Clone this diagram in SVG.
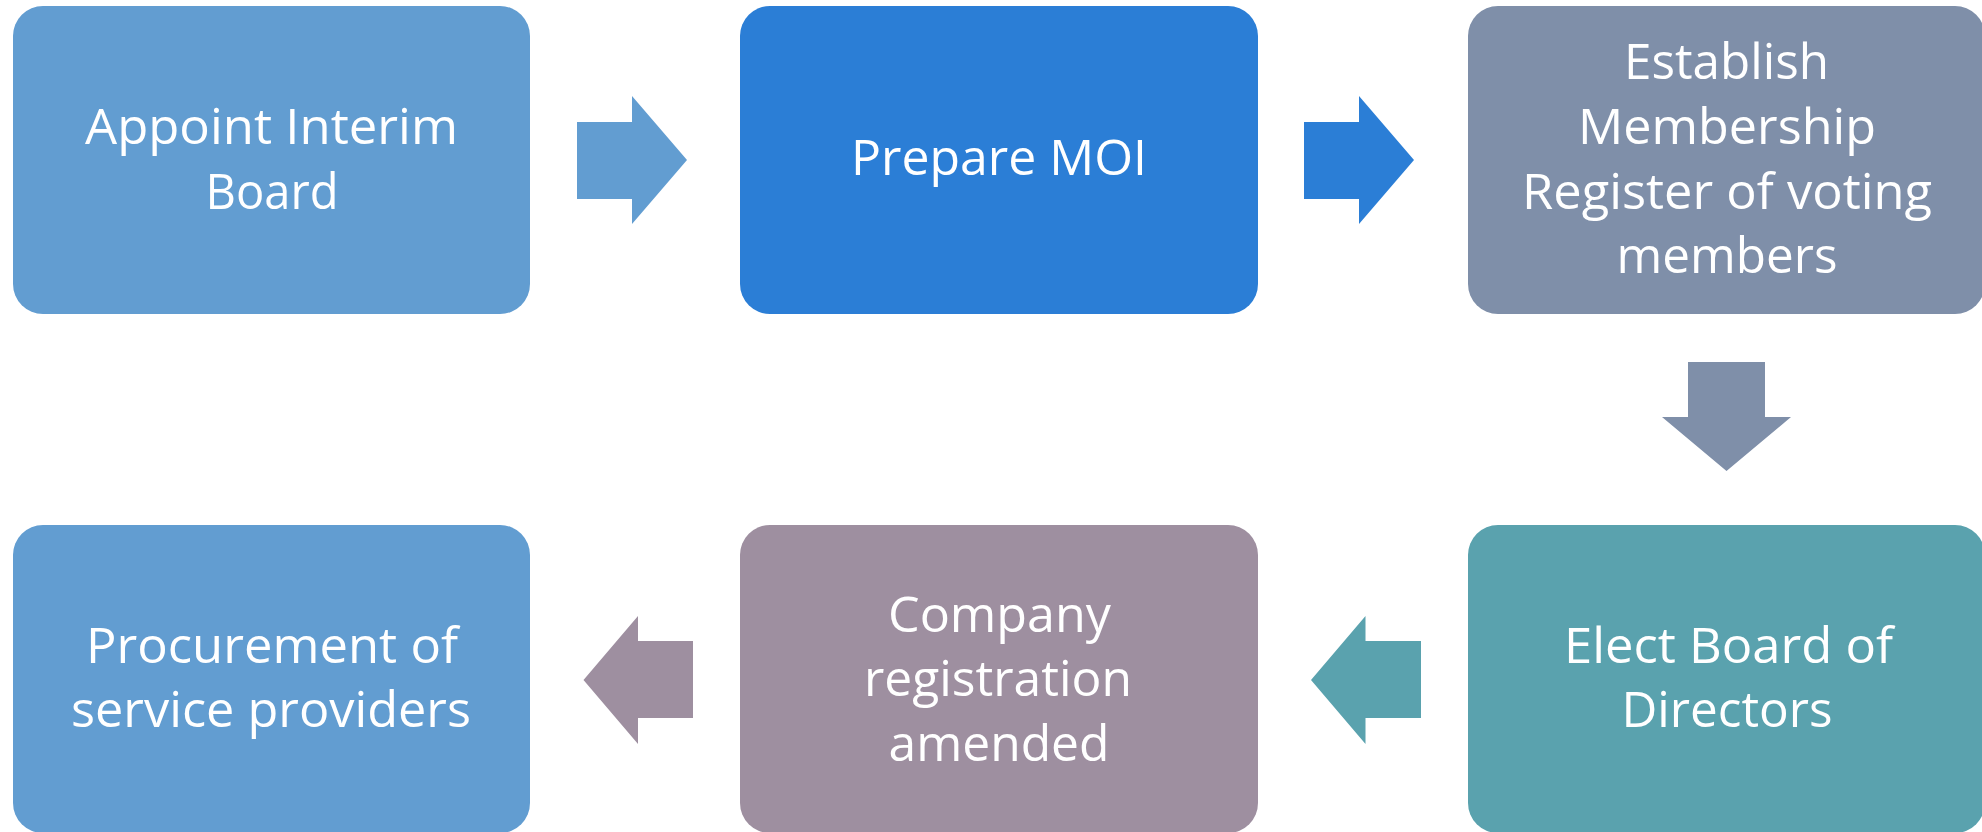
<svg xmlns="http://www.w3.org/2000/svg" width="1982" height="832" viewBox="0 0 1982 832">
<style>
.lbl{font-family:"Open Sans","Noto Sans","Liberation Sans",sans-serif;font-size:50px;fill:#ffffff;text-anchor:middle}
</style>
<rect width="1982" height="832" fill="#ffffff"/>
<g id="connectors">
<polygon fill="#629DD1" points="577,122 632,122 632,96 687,160 632,224 632,199 577,199"/>
<polygon fill="#2B7ED6" points="1304,122 1359,122 1359,96 1414,160 1359,224 1359,199 1304,199"/>
<polygon fill="#7F8FA9" points="1688,362 1765,362 1765,417 1791,417 1726.5,471 1662,417 1688,417"/>
<polygon fill="#5AA2AE" points="1421,641 1365.5,641 1365.5,616 1311,680 1365.5,744 1365.5,718 1421,718"/>
<polygon fill="#9E8FA0" points="693,641 638,641 638,616 583.5,680 638,744 638,718 693,718"/>
</g>
<g id="node-appoint">
<rect x="13" y="6" width="517" height="308" rx="30" ry="30" fill="#629DD1"/>
<text class="lbl" x="271.5" y="144" textLength="373" lengthAdjust="spacingAndGlyphs">Appoint Interim</text>
<text class="lbl" x="272" y="209" textLength="133" lengthAdjust="spacingAndGlyphs">Board</text>
</g>
<g id="node-moi">
<rect x="740" y="6" width="518" height="308" rx="30" ry="30" fill="#2B7ED6"/>
<text class="lbl" x="999" y="175" textLength="296" lengthAdjust="spacingAndGlyphs">Prepare MOI</text>
</g>
<g id="node-register">
<rect x="1468" y="6" width="517" height="308" rx="30" ry="30" fill="#7F8FA9"/>
<text class="lbl" x="1726.5" y="79" textLength="205" lengthAdjust="spacingAndGlyphs">Establish</text>
<text class="lbl" x="1727" y="144" textLength="298" lengthAdjust="spacingAndGlyphs">Membership</text>
<text class="lbl" x="1727" y="209" textLength="410" lengthAdjust="spacingAndGlyphs">Register of voting</text>
<text class="lbl" x="1727" y="273" textLength="221" lengthAdjust="spacingAndGlyphs">members</text>
</g>
<g id="node-elect">
<rect x="1468" y="525" width="517" height="308" rx="30" ry="30" fill="#5AA2AE"/>
<text class="lbl" x="1728.5" y="663" textLength="329" lengthAdjust="spacingAndGlyphs">Elect Board of</text>
<text class="lbl" x="1727" y="727" textLength="211" lengthAdjust="spacingAndGlyphs">Directors</text>
</g>
<g id="node-company">
<rect x="740" y="525" width="518" height="308" rx="30" ry="30" fill="#9E8FA0"/>
<text class="lbl" x="999.5" y="632" textLength="223" lengthAdjust="spacingAndGlyphs">Company</text>
<text class="lbl" x="998" y="696" textLength="268" lengthAdjust="spacingAndGlyphs">registration</text>
<text class="lbl" x="999" y="761" textLength="221" lengthAdjust="spacingAndGlyphs">amended</text>
</g>
<g id="node-procurement">
<rect x="13" y="525" width="517" height="308" rx="30" ry="30" fill="#629DD1"/>
<text class="lbl" x="272" y="663" textLength="372" lengthAdjust="spacingAndGlyphs">Procurement of</text>
<text class="lbl" x="271" y="727" textLength="400" lengthAdjust="spacingAndGlyphs">service providers</text>
</g>
</svg>
